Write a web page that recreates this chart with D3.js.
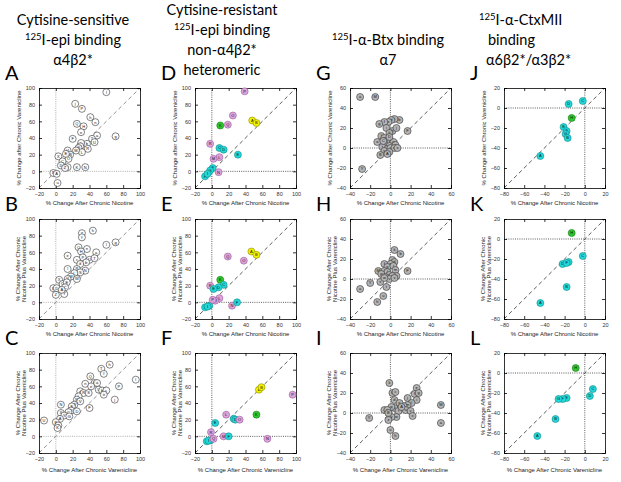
<!DOCTYPE html>
<html><head><meta charset="utf-8">
<script src="https://cdn.jsdelivr.net/npm/d3@7"></script>
<style>body{margin:0;background:#fff}svg{display:block}</style>
</head><body><svg id="c" width="621" height="482"></svg>
<script>
// ---- data ----
const ticksAF = [-20,0,20,40,60,80,100];
const ticksGI = [-40,-20,0,20,40,60];
const ticksJL = [-80,-60,-40,-20,0,20];
const colTitles = [
  ["Cytisine-sensitive","<sup>125</sup>I-epi binding","α4β2*"],
  ["Cytisine-resistant","<sup>125</sup>I-epi binding","non-α4β2*","heteromeric"],
  ["<sup>125</sup>I-α-Btx binding","α7"],
  ["<sup>125</sup>I-α-CtxMII","binding","α6β2*/α3β2*"]
];
const panelLetters = ["A","B","C","D","E","F","G","H","I","J","K","L"];
const xLabels = ["% Change After Chronic Nicotine","% Change After Chronic Nicotine","% Change After Chronic Varenicline"];
const yLabels = [["% Change after Chronic Varenicline"],["% Change After Chronic","Nicotine Plus Varenicline"],["% Change After Chronic","Nicotine Plus Varenicline"]];

const pointsA = [[60,95,"l"],[23,81,"j"],[31,75,"P"],[41,65,"h"],[47,59,"n"],[25,57,"Q"],[33,54,"H"],[30,47,"e"],[71,42,"g"],[20,39,"F"],[49,43,"a"],[43,39,"T"],[46,35,"U"],[37,33,"b"],[30,34,"c"],[29,30,"d"],[38,27,"R"],[27,28,"S"],[31,23,"L"],[24,25,"M"],[14,25,"V"],[17,20,"W"],[15,15,"O"],[12,21,"E"],[3,18,"X"],[8,12,"C"],[6,7,"D"],[14,5,"Y"],[11,4,"Z"],[25,5,"K"],[35,5,"N"],[-3,-2,"B"],[1,-3,"A"],[2,-14,"u"]];
const pointsB = [[44,86,"h"],[31,83,"T"],[31,78,"f"],[60,69,"l"],[71,72,"g"],[27,66,"Q"],[37,64,"n"],[30,61,"H"],[48,60,"a"],[14,56,"e"],[32,54,"P"],[25,51,"c"],[40,51,"U"],[46,53,"T"],[36,48,"b"],[29,46,"d"],[25,40,"R"],[14,40,"l"],[35,38,"N"],[29,36,"S"],[22,35,"L"],[18,31,"M"],[14,28,"V"],[25,28,"W"],[4,27,"X"],[8,22,"O"],[13,24,"E"],[11,18,"C"],[-3,17,"B"],[1,17,"D"],[0,9,"Z"],[10,10,"Y"],[7,15,"A"]];
const pointsC = [[64,86,"h"],[54,81,"T"],[57,75,"f"],[95,68,"l"],[75,60,"P"],[70,44,"j"],[41,72,"Q"],[35,63,"n"],[46,64,"H"],[49,64,"a"],[42,60,"e"],[51,56,"U"],[55,55,"b"],[60,55,"c"],[57,50,"o"],[29,54,"d"],[33,52,"R"],[39,52,"S"],[27,48,"L"],[25,44,"M"],[29,42,"V"],[22,38,"W"],[19,36,"E"],[40,34,"F"],[6,38,"N"],[18,31,"O"],[15,29,"C"],[25,30,"D"],[6,28,"X"],[10,25,"Y"],[5,21,"A"],[0,17,"B"],[3,13,"Z"],[2,10,"K"],[-14,19,"U"],[16,24,"G"]];
// [x, y, label, colour code] p=pink c=cyan y=yellow g=green
const pointsD = [[39,96,"P","p"],[25,67,"O","p"],[48,61,"A","y"],[53,58,"B","y"],[10,55,"K","g"],[19,56,"Q","p"],[-2,33,"R","p"],[9,28,"C","c"],[14,26,"D","c"],[31,20,"E","c"],[9,17,"L","p"],[2,15,"M","p"],[1,4,"F","c"],[-2,1,"G","c"],[8,-1,"N","p"],[-8,-6,"H","c"],[-5,-3,"I","c"]];
const pointsE = [[47,61,"A","y"],[53,57,"B","y"],[19,55,"Q","p"],[38,50,"O","p"],[10,27,"K","g"],[-2,20,"R","p"],[14,21,"C","c"],[8,18,"D","c"],[2,16,"E","c"],[9,5,"L","p"],[4,2,"M","p"],[24,-4,"N","p"],[30,0,"F","c"],[-8,-6,"H","c"],[-3,-4,"G","c"],[-5,-5,"I","c"],[1,3,"P","p"]];
const pointsF = [[56,56,"A","y"],[59,59,"B","y"],[96,50,"P","p"],[53,26,"K","g"],[17,26,"L","p"],[26,21,"C","c"],[28,20,"D","c"],[33,20,"O","p"],[4,16,"E","c"],[-1,5,"R","p"],[14,0,"M","p"],[20,0,"F","c"],[66,-3,"N","p"],[-2,-5,"G","c"],[-6,-6,"H","c"],[-4,-5,"I","c"],[2,-3,"Q","p"]];
const pointsG = [[-30,51,"a"],[-15,51,"M"],[9,28,"b"],[4,29,"c"],[1,28,"d"],[-2,26,"e"],[-6,26,"f"],[-11,24,"g"],[17,17,"F"],[2,17,"h"],[-4,20,"i"],[6,20,"j"],[-1,15,"k"],[-9,12,"l"],[-6,10,"m"],[-5,6,"n"],[-13,6,"o"],[0,7,"p"],[3,6,"q"],[-1,2,"r"],[5,3,"s"],[-8,1,"t"],[-3,-1,"u"],[0,0,"v"],[4,0,"w"],[7,0,"x"],[-6,-3,"y"],[-1,-4,"z"],[-3,-6,"A"],[-10,-7,"B"],[-28,-21,"Y"],[-7,7,"C"],[-1,11,"D"]];
const pointsH = [[4,29,"k"],[10,25,"b"],[2,19,"c"],[4,17,"d"],[0,15,"e"],[-6,15,"f"],[-3,12,"g"],[3,13,"i"],[-12,8,"M"],[-6,8,"j"],[-3,7,"l"],[17,8,"F"],[5,9,"m"],[-1,4,"n"],[6,3,"o"],[-9,5,"p"],[2,3,"q"],[-5,2,"r"],[-20,-4,"Y"],[-10,-3,"s"],[-4,-8,"t"],[-30,-10,"a"],[-7,-17,"u"],[-13,-23,"h"],[-1,0,"v"],[-6,1,"w"],[4,1,"x"]];
const pointsI = [[-1,30,"k"],[2,20,"b"],[5,21,"c"],[4,13,"d"],[26,25,"e"],[24,19,"f"],[28,20,"g"],[26,13,"i"],[17,15,"j"],[21,10,"l"],[17,8,"m"],[13,7,"n"],[9,10,"o"],[4,5,"p"],[1,6,"q"],[-6,3,"r"],[-3,3,"s"],[8,2,"t"],[15,3,"u"],[20,2,"v"],[22,-3,"x"],[6,-4,"w"],[1,-4,"y"],[-2,-7,"z"],[-21,-5,"Y"],[50,8,"M"],[50,-10,"a"],[0,-17,"u"],[5,-23,"h"],[11,6,"A"],[-2,0,"B"]];
const pointsJ = [[-2,7,"C","c"],[-16,4,"D","c"],[-13,-10,"H","g"],[-21,-19,"E","c"],[-18,-23,"F","c"],[-19,-26,"G","c"],[-17,-30,"B","c"],[-44,-48,"A","c"]];
const pointsK = [[-13,6,"H","g"],[-2,-17,"C","c"],[-22,-25,"D","c"],[-16,-23,"E","c"],[-18,-24,"F","c"],[-18,-48,"B","c"],[-44,-64,"A","c"]];
const pointsL = [[-9,5,"H","g"],[8,-16,"C","c"],[5,-23,"D","c"],[-18,-25,"E","c"],[-22,-26,"F","c"],[-26,-26,"G","c"],[-29,-46,"B","c"],[-47,-63,"A","c"]];

// ---- layout ----
const colLeft = [39,195,350,504];
const rowTop = [88,219,353];
const W = 101, H = 100;
const fillCol = {p:"#dca3dc", c:"#22d8d8", y:"#f2f200", g:"#2ec82e"};
const strokeCol = {p:"#9a5a9a", c:"#118a8a", y:"#8a8a00", g:"#127a12"};

const svg = d3.select("#c");
const FONT = "'Liberation Sans', Arial, sans-serif";
const TFONT = "Lato, 'Open Sans', sans-serif";

const panels = [];
const allPts = [pointsA,pointsB,pointsC,pointsD,pointsE,pointsF,pointsG,pointsH,pointsI,pointsJ,pointsK,pointsL];
const ticksByCol = [ticksAF,ticksAF,ticksGI,ticksJL];
for (let c=0;c<4;c++) for (let r=0;r<3;r++) {
  panels.push({c, r, letter: panelLetters[c*3+r], pts: allPts[c*3+r], ticks: ticksByCol[c], style: c===0?"white":(c===2?"gray":"color")});
}

// column titles
const titleX = [73,222,388,null];
const titleY = {0:[20,40,60],1:[10,30,50,70],2:[40,60],3:[20,40,60]};
colTitles.forEach((lines,ci)=>{
  lines.forEach((ln,li)=>{
    const t = svg.append("text").attr("y",titleY[ci][li]+5)
      .attr("font-family",TFONT).attr("font-size",14.5).attr("fill","#000");
    if (ci===3) { t.attr("x",[479,488,486][li]).attr("text-anchor","start"); }
    else { t.attr("x",titleX[ci]).attr("text-anchor","middle"); }
    const parts = ln.split(/<sup>|<\/sup>/);
    if (parts.length===3) {
      t.append("tspan").attr("font-size",9.5).attr("dy",-5).text(parts[1]);
      t.append("tspan").attr("dy",5).text(parts[2]);
    } else t.text(ln);
  });
});

panels.forEach(p=>{
  const L = colLeft[p.c], T = rowTop[p.r];
  const dom = [p.ticks[0], p.ticks[p.ticks.length-1]];
  const x = d3.scaleLinear().domain(dom).range([L, L+W]);
  const y = d3.scaleLinear().domain(dom).range([T+H, T]);
  const g = svg.append("g");

  // panel letter
  svg.append("text").attr("x", L-34).attr("y", T-8).attr("font-family",TFONT)
    .attr("font-size",20).text(p.letter);

  const refCol = p.style==="white" ? "#999" : "#333";
  // reference lines
  g.append("line").attr("x1",x(0)).attr("x2",x(0)).attr("y1",y(dom[0])).attr("y2",y(dom[1]))
    .attr("stroke",refCol).attr("stroke-width",0.8).attr("stroke-dasharray","1,1.2");
  g.append("line").attr("x1",x(dom[0])).attr("x2",x(dom[1])).attr("y1",y(0)).attr("y2",y(0))
    .attr("stroke",refCol).attr("stroke-width",0.8).attr("stroke-dasharray","1,1.2");
  g.append("line").attr("x1",x(dom[0])).attr("x2",x(dom[1])).attr("y1",y(dom[0])).attr("y2",y(dom[1]))
    .attr("stroke",p.style==="white"?"#777":"#333").attr("stroke-width",0.8).attr("stroke-dasharray","4,3");

  // axes
  const ax = d3.axisBottom(x).tickValues(p.ticks).tickSize(-3).tickPadding(4);
  const ay = d3.axisLeft(y).tickValues(p.ticks).tickSize(-3).tickPadding(4);
  const axT = d3.axisTop(x).tickValues(p.ticks).tickSize(-3).tickFormat("");
  const ayR = d3.axisRight(y).tickValues(p.ticks).tickSize(-3).tickFormat("");
  [[ax,`translate(0,${T+H})`],[ay,`translate(${L},0)`],[axT,`translate(0,${T})`],[ayR,`translate(${L+W},0)`]].forEach(([a,tr])=>{
    const s = g.append("g").attr("transform",tr).call(a);
    s.select(".domain").attr("stroke","#000").attr("stroke-width",0.8);
    s.selectAll(".tick line").attr("stroke","#000").attr("stroke-width",0.8);
    s.selectAll("text").attr("font-family",FONT).attr("font-size",5.5).attr("fill","#333");
  });

  // axis labels
  svg.append("text").attr("x",L+W/2).attr("y",T+H+(p.r===2?19:17)).attr("text-anchor","middle")
    .attr("font-family",FONT).attr("font-size",6).attr("fill","#222").text(xLabels[p.r]);
  const yl = yLabels[p.r];
  yl.forEach((ln,i)=>{
    const xx = yl.length===1 ? L-18 : L-19+i*5.5;
    svg.append("text").attr("transform",`translate(${xx},${T+H/2}) rotate(-90)`)
      .attr("text-anchor","middle").attr("font-family",FONT).attr("font-size",6).attr("fill","#222").text(ln);
  });

  // points
  const pg = g.append("g");
  p.pts.forEach(d=>{
    const cx = x(d[0]), cy = y(d[1]);
    let f, s;
    if (p.style==="white") { f="#fff"; s="#333"; }
    else if (p.style==="gray") { f="#b4b4b4"; s="#333"; }
    else { f=fillCol[d[3]]; s=strokeCol[d[3]]; }
    pg.append("circle").attr("cx",cx).attr("cy",cy).attr("r",3.5).attr("fill",f).attr("fill-opacity",p.style==="white"?0.85:1)
      .attr("stroke",s).attr("stroke-width",0.6);
    pg.append("text").attr("x",cx).attr("y",cy+1.4).attr("text-anchor","middle")
      .attr("font-family",FONT).attr("font-size",4).attr("fill","#111").text(d[2]);
  });
});
</script></body></html>
